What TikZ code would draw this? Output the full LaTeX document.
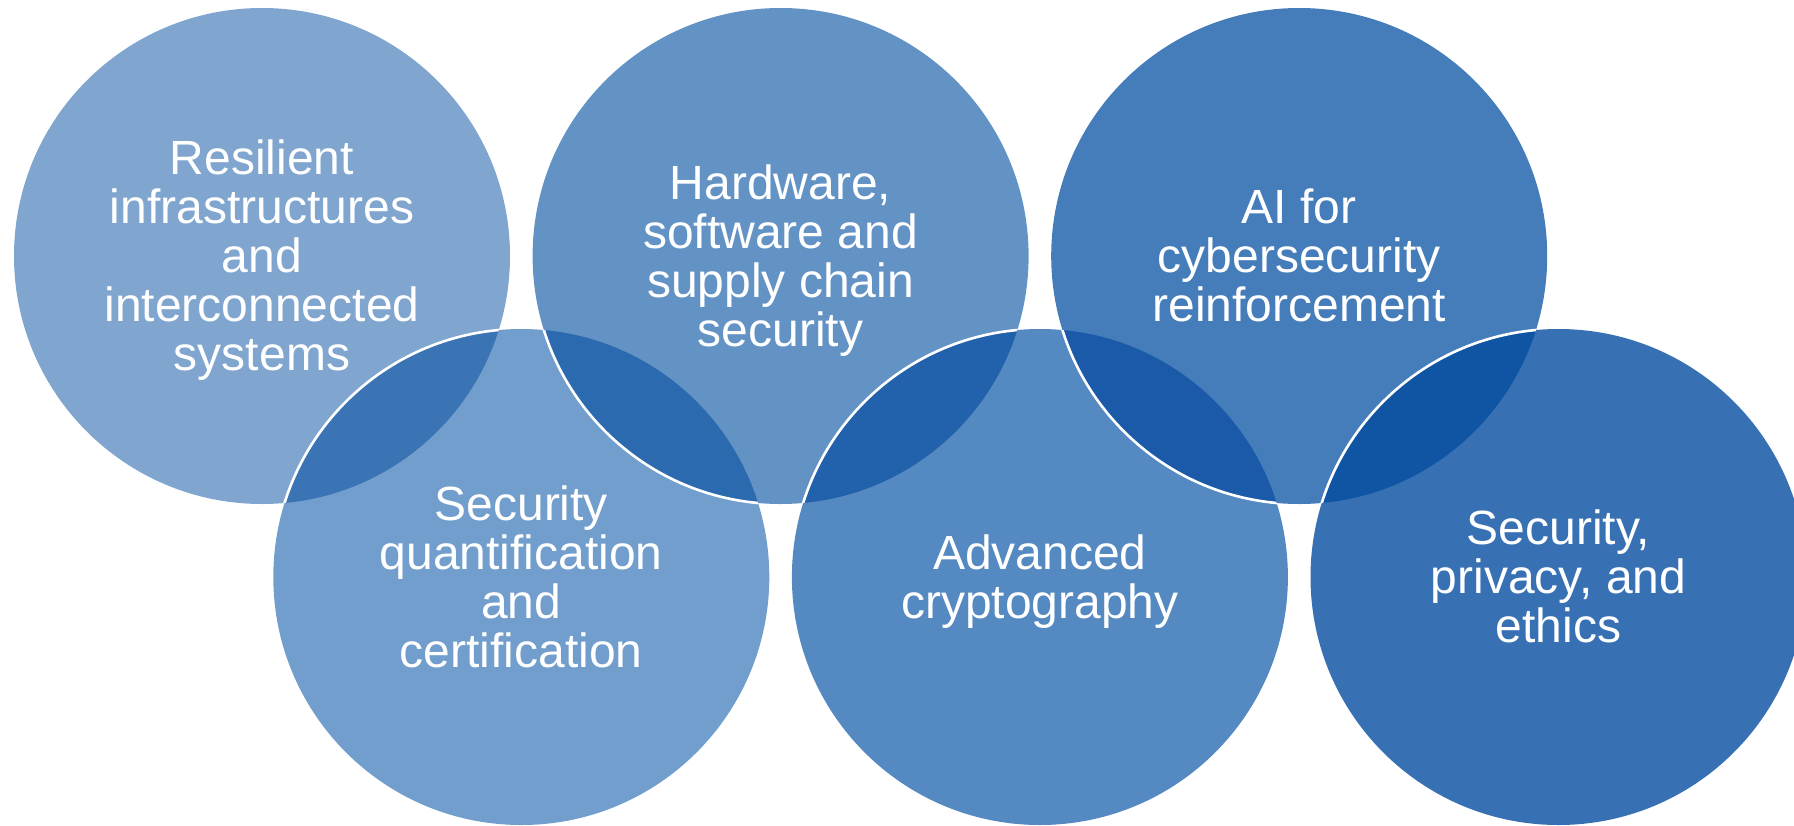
\documentclass[tikz,border=0pt]{standalone}
\usepackage{fontspec}
\setmainfont{Liberation Sans}
\definecolor{cA}{HTML}{80A6D0}
\definecolor{cD}{HTML}{729ECD}
\definecolor{cB}{HTML}{6393C5}
\definecolor{cE}{HTML}{5589C1}
\definecolor{cC}{HTML}{457DBB}
\definecolor{cF}{HTML}{3771B4}
\definecolor{lAD}{HTML}{3A74B5}
\definecolor{lBD}{HTML}{2C6AB0}
\definecolor{lBE}{HTML}{2262AC}
\definecolor{lCE}{HTML}{1A5AA8}
\definecolor{lCF}{HTML}{1055A3}
\tikzset{
  lbl/.style={text=white, align=center, inner sep=0pt,
    font=\fontsize{24}{24.5}\selectfont},
  rim/.style={draw=white, line width=1.3pt}
}
\newcommand{\topstrut}{\rule{0pt}{0.905em}}
\newcommand{\botstrut}{\rule[-0.212em]{0pt}{0.212em}}
\begin{document}
\begin{tikzpicture}[x=0.5pt,y=-0.5pt]
\def\R{248}
\useasboundingbox (0,0) rectangle (1794,825);
\clip (0,0) rectangle (1794,825);
\coordinate (pA) at (262,256);
\coordinate (pD) at (521.3,577);
\coordinate (pB) at (780.6,256);
\coordinate (pE) at (1039.9,577);
\coordinate (pC) at (1299.2,256);
\coordinate (pF) at (1558.5,577);
% circles
\fill[cA] (pA) circle[radius=\R];
\fill[cD] (pD) circle[radius=\R];
\fill[cB] (pB) circle[radius=\R];
\fill[cE] (pE) circle[radius=\R];
\fill[cC] (pC) circle[radius=\R];
\fill[cF] (pF) circle[radius=\R];
% overlaps
\begin{scope}\clip (pA) circle[radius=\R]; \fill[lAD] (pD) circle[radius=\R]; \end{scope}
\begin{scope}\clip (pD) circle[radius=\R]; \fill[lBD] (pB) circle[radius=\R]; \end{scope}
\begin{scope}\clip (pB) circle[radius=\R]; \fill[lBE] (pE) circle[radius=\R]; \end{scope}
\begin{scope}\clip (pE) circle[radius=\R]; \fill[lCE] (pC) circle[radius=\R]; \end{scope}
\begin{scope}\clip (pC) circle[radius=\R]; \fill[lCF] (pF) circle[radius=\R]; \end{scope}
% white rims of the upper circle inside the lower one
\begin{scope}\clip (pA) circle[radius=\R]; \path[rim] (pD) circle[radius=\R]; \end{scope}
\begin{scope}\clip (pD) circle[radius=\R]; \path[rim] (pB) circle[radius=\R]; \end{scope}
\begin{scope}\clip (pB) circle[radius=\R]; \path[rim] (pE) circle[radius=\R]; \end{scope}
\begin{scope}\clip (pE) circle[radius=\R]; \path[rim] (pC) circle[radius=\R]; \end{scope}
\begin{scope}\clip (pC) circle[radius=\R]; \path[rim] (pF) circle[radius=\R]; \end{scope}
% labels
\node[lbl] (tA) at (pA) {\topstrut Resilient\\infrastructures\\and\\interconnected\\systems\botstrut};
\node[lbl] (tB) at (pB) {\topstrut Hardware,\\software and\\supply chain\\security\botstrut};
\node[lbl] (tC) at (pC) {\topstrut AI for\\cybersecurity\\reinforcement\botstrut};
\node[lbl] (tD) at (pD) {\topstrut Security\\quantification\\and\\certification\botstrut};
\node[lbl] (tE) at (pE) {\topstrut Advanced\\cryptography\botstrut};
\node[lbl] (tF) at (pF) {\topstrut Security,\\privacy, and\\ethics\botstrut};
\end{tikzpicture}
\end{document}
